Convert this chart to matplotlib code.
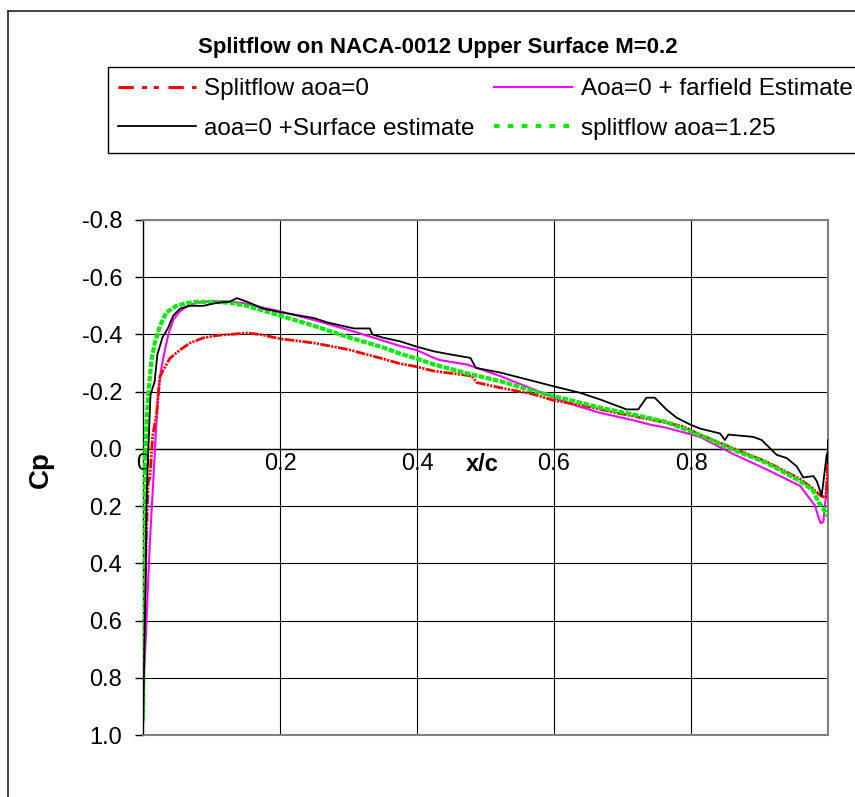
import matplotlib
matplotlib.use('Agg')
import matplotlib.pyplot as plt
from matplotlib.lines import Line2D
from matplotlib.patches import Rectangle

plt.rcParams['font.family'] = ['Liberation Sans', 'DejaVu Sans']
plt.rcParams['lines.scale_dashes'] = False

TITLE = 'Splitflow on NACA-0012 Upper Surface M=0.2'

# Splitflow aoa=0
red_x = [0.0, 0.002, 0.005, 0.0075, 0.0102, 0.014, 0.02, 0.0248, 0.0297, 0.0394, 0.054,
         0.0686, 0.088, 0.11, 0.127, 0.151, 0.171, 0.2, 0.25, 0.3, 0.35, 0.375, 0.4, 0.4245,
         0.48, 0.487, 0.521, 0.57, 0.599, 0.643, 0.691, 0.74, 0.788, 0.8131, 0.8618,
         0.9105, 0.9591, 0.9786, 0.99, 0.997, 1.0, 1.0]
red_cp = [0.95, 0.55, 0.3, 0.12, 0.097, -0.043, -0.125, -0.253, -0.276, -0.317, -0.346,
          -0.37, -0.388, -0.397, -0.4, -0.405, -0.4, -0.385, -0.37, -0.347, -0.315, -0.298,
          -0.287, -0.272, -0.255, -0.232, -0.214, -0.191, -0.17, -0.151, -0.126, -0.103,
          -0.079, -0.05, -0.002, 0.045, 0.105, 0.14, 0.165, 0.17, 0.04, 0.15]

# Aoa=0 + farfield Estimate
mag_x = [0.0, 0.003, 0.0102, 0.0151, 0.019, 0.0224, 0.0273, 0.0321, 0.037, 0.0443, 0.054,
         0.0686, 0.088, 0.107, 0.127, 0.146, 0.176, 0.2, 0.25, 0.3, 0.375, 0.4, 0.4245,
         0.434, 0.473, 0.521, 0.57, 0.619, 0.667, 0.716, 0.74, 0.764, 0.8131, 0.8618,
         0.9105, 0.9591, 0.9737, 0.981, 0.9859, 0.9893, 0.9932, 0.9957, 1.0]
mag_cp = [0.85, 0.714, 0.318, 0.108, -0.067, -0.207, -0.289, -0.347, -0.4, -0.452, -0.481,
          -0.505, -0.514, -0.517, -0.514, -0.51, -0.493, -0.481, -0.45, -0.416, -0.36,
          -0.345, -0.318, -0.31, -0.295, -0.255, -0.208, -0.161, -0.126, -0.1, -0.085,
          -0.074, -0.042, 0.018, 0.072, 0.129, 0.175, 0.198, 0.238, 0.26, 0.255, 0.192, 0.10]

# aoa=0 +Surface estimate
blk_x = [0.0, 0.002, 0.004, 0.005, 0.007, 0.0078, 0.011, 0.017, 0.021, 0.0285, 0.036,
         0.044, 0.054, 0.068, 0.088, 0.107, 0.127, 0.137, 0.151, 0.176, 0.2, 0.25, 0.269,
         0.308, 0.331, 0.335, 0.35, 0.375, 0.4, 0.4245, 0.449, 0.478, 0.486, 0.521, 0.57,
         0.599, 0.638, 0.667, 0.706, 0.723, 0.735, 0.747, 0.764, 0.779, 0.798, 0.8131,
         0.8423, 0.8496, 0.8545, 0.891, 0.9032, 0.9251, 0.9397, 0.9543, 0.964, 0.9786,
         0.9835, 0.9908, 0.9981, 1.0, 1.0, 1.0]
blk_cp = [1.0, 0.7, 0.45, 0.2, 0.05, 0.0, -0.19, -0.235, -0.33, -0.39, -0.42, -0.465,
          -0.49, -0.5, -0.5, -0.51, -0.515, -0.527, -0.515, -0.49, -0.478, -0.457, -0.442,
          -0.421, -0.421, -0.4, -0.389, -0.376, -0.357, -0.341, -0.33, -0.318, -0.283,
          -0.267, -0.237, -0.219, -0.196, -0.173, -0.138, -0.138, -0.179, -0.179, -0.138,
          -0.109, -0.086, -0.071, -0.054, -0.031, -0.05, -0.042, -0.031, 0.021, 0.032,
          0.061, 0.10, 0.095, 0.112, 0.163, 0.021, 0.009, -0.03, 0.05]

# splitflow aoa=1.25
grn_x = [0.0, 0.001, 0.003, 0.0054, 0.0078, 0.0102, 0.0127, 0.0175, 0.0248, 0.034, 0.049,
         0.063, 0.078, 0.102, 0.127, 0.151, 0.176, 0.2, 0.25, 0.3, 0.35, 0.375, 0.4,
         0.4245, 0.473, 0.521, 0.57, 0.619, 0.667, 0.716, 0.764, 0.8131, 0.8618, 0.9105,
         0.9591, 0.9786, 0.9859, 0.9932, 1.0]
grn_cp = [0.95, 0.5, 0.027, -0.1, -0.197, -0.256, -0.314, -0.372, -0.43, -0.477, -0.5,
          -0.509, -0.514, -0.514, -0.511, -0.5, -0.483, -0.466, -0.43, -0.39, -0.355,
          -0.333, -0.315, -0.295, -0.264, -0.237, -0.202, -0.173, -0.144, -0.12, -0.094,
          -0.048, 0.003, 0.049, 0.112, 0.146, 0.186, 0.209, 0.235]

y_ticks = [-0.8, -0.6, -0.4, -0.2, 0.0, 0.2, 0.4, 0.6, 0.8, 1.0]
x_ticks = [0.0, 0.2, 0.4, 0.6, 0.8]
x_tick_labels = ['0', '0.2', '0.4', '0.6', '0.8']

W, H = 855, 797
fig = plt.figure(figsize=(W / 100, H / 100), dpi=100)

# chart frame (runs off the right and bottom edges)
fig.add_artist(Line2D([8 / W, 8 / W], [0, 1 - 11 / H], color='#222222', lw=1.2))
fig.add_artist(Line2D([8 / W, 1], [1 - 11 / H, 1 - 11 / H], color='#222222', lw=1.2))

ax = fig.add_axes([143 / W, 1 - 735 / H, 685 / W, 515 / H])
ax.set_xlim(0, 1)
ax.set_ylim(1.0, -0.8)

for yv in y_ticks:
    ax.axhline(yv, color='black', lw=0.8, zorder=1)
for xv in x_ticks[1:]:
    ax.axvline(xv, color='black', lw=0.8, zorder=1)
ax.axhline(0.0, color='black', lw=1.0, zorder=1)

for side in ('top', 'right', 'bottom'):
    ax.spines[side].set_color('#808080')
    ax.spines[side].set_linewidth(1.5)
ax.spines['left'].set_color('black')
ax.spines['left'].set_linewidth(1.0)

ax.set_yticks(y_ticks)
ax.set_yticklabels(['%.1f' % v for v in y_ticks], fontsize=17)
ax.tick_params(axis='y', direction='out', length=6, width=1, pad=9)
ax.set_xticks([])

ax.plot(mag_x, mag_cp, color='#ff00ff', lw=1.5, zorder=3)
ax.plot(red_x, red_cp, color='red', lw=2.0, dashes=(7, 1, 1.5, 1, 1.5, 1), zorder=4)
ax.plot(grn_x, grn_cp, color='#00ee00', lw=3.0, dashes=(4, 1.2), zorder=4)
ax.plot(blk_x, blk_cp, color='black', lw=1.3, zorder=5)

# x tick labels sit on the Cp = 0 line
for xv, lab in zip(x_ticks, x_tick_labels):
    ax.annotate(lab, (xv, 0.0), xytext=(0, -3), textcoords='offset points',
                ha='center', va='top', fontsize=17)
ax.annotate('x/c', (0.5, 0.0), xytext=(-2, -3), textcoords='offset points',
            ha='center', va='top', fontsize=17, fontweight='bold')

ax.set_ylabel('Cp', fontsize=20, fontweight='bold')
ax.yaxis.set_label_coords((54 - 143) / 685, (735 - 470) / 515)

fig.text(438 / W, 1 - 47 / H, TITLE, ha='center', va='center',
         fontsize=16, fontweight='bold')

# legend box, wider than the figure
fig.add_artist(Rectangle((108 / W, 1 - 153 / H), 1.0, (153 - 67) / H,
                         transform=fig.transFigure, facecolor='white',
                         edgecolor='black', lw=1.0, zorder=0))

handles = [
    Line2D([], [], color='red', lw=2.2, dashes=(11, 6, 3.5, 5, 3.5, 7)),
    Line2D([], [], color='black', lw=1.3),
    Line2D([], [], color='#ff00ff', lw=1.5),
    Line2D([], [], color='#00ee00', lw=3.0, dashes=(4, 6)),
]
labels = ['Splitflow aoa=0', 'aoa=0 +Surface estimate',
          'Aoa=0 + farfield Estimate', 'splitflow aoa=1.25']
fig.legend(handles, labels, loc='upper left', bbox_to_anchor=(118 / W, 1 - 78 / H),
           ncol=2, frameon=False, fontsize=17.5, handlelength=3.2, handletextpad=0.35,
           columnspacing=0.8, labelspacing=0.72, borderpad=0, borderaxespad=0)

fig.savefig('out.png', dpi=100)
